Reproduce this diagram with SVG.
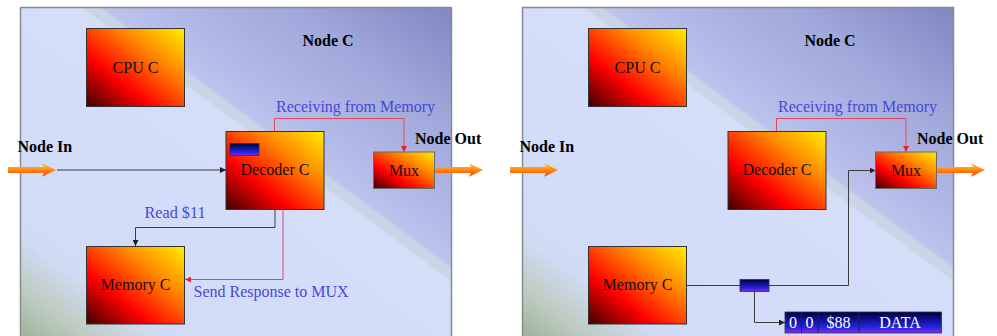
<svg xmlns="http://www.w3.org/2000/svg" width="997" height="336" viewBox="0 0 997 336">
  <defs>
    <style>
      .panel { stroke: #8a8a8a; stroke-width: 1.5; fill: url(#panelGrad); }
      .box { stroke: #333333; stroke-width: 1; fill: url(#hotGrad); }
      .mux { stroke: #6a6a6a; stroke-width: 1; fill: url(#hotGrad); }
      .chip { stroke: #303050; stroke-width: 0.8; fill: url(#blueGrad); }
      .lbl { font-family: "Liberation Serif", "Times New Roman", serif; font-size: 16px; fill: #111111; text-anchor: middle; }
      .title { font-family: "Liberation Serif", "Times New Roman", serif; font-size: 16px; font-weight: bold; fill: #000000; }
      .note { font-family: "Liberation Serif", "Times New Roman", serif; font-size: 16px; fill: #4848d8; }
      .pkt { font-family: "Liberation Serif", "Times New Roman", serif; font-size: 16px; fill: #ffffff; text-anchor: middle; }
      .wire { fill: none; stroke: #3c3c3c; stroke-width: 1; }
      .wire-red { fill: none; stroke: #e04a5e; stroke-width: 1; }
      .fat { fill: url(#arrowGrad); }
    </style>
    <!-- panel backdrop: pale blue with a light diagonal streak, darker towards the top right -->
    <linearGradient id="panelGrad" gradientUnits="userSpaceOnUse" x1="20" y1="336" x2="330" y2="-83">
      <stop offset="0" stop-color="#9fb29c"/>
      <stop offset="0.07" stop-color="#bccabf"/>
      <stop offset="0.16" stop-color="#d2dbf6"/>
      <stop offset="0.55" stop-color="#d4ddfa"/>
      <stop offset="0.574" stop-color="#d6def6"/>
      <stop offset="0.580" stop-color="#c9d5e6"/>
      <stop offset="0.596" stop-color="#c9d4e8"/>
      <stop offset="0.601" stop-color="#bcc3ec"/>
      <stop offset="0.64" stop-color="#b6bdea"/>
      <stop offset="0.82" stop-color="#a0a7da"/>
      <stop offset="1" stop-color="#8086c2"/>
    </linearGradient>
    <!-- component fill: dark red corner to yellow corner -->
    <linearGradient id="hotGrad" x1="0" y1="1" x2="1" y2="0">
      <stop offset="0" stop-color="#3c0000"/>
      <stop offset="0.33" stop-color="#ff0000"/>
      <stop offset="0.68" stop-color="#ff8a00"/>
      <stop offset="1" stop-color="#ffee00"/>
    </linearGradient>
    <linearGradient id="blueGrad" x1="0" y1="0" x2="0" y2="1">
      <stop offset="0" stop-color="#00003a"/>
      <stop offset="0.45" stop-color="#1414a8"/>
      <stop offset="0.78" stop-color="#2a2ae6"/>
      <stop offset="1" stop-color="#a020e8"/>
    </linearGradient>
    <linearGradient id="arrowGrad" x1="0" y1="0" x2="0" y2="1">
      <stop offset="0" stop-color="#ffc838"/>
      <stop offset="0.5" stop-color="#ff8a10"/>
      <stop offset="1" stop-color="#ff3400"/>
    </linearGradient>
    <marker id="tipBlack" markerUnits="userSpaceOnUse" markerWidth="7" markerHeight="6" refX="6" refY="3" orient="auto">
      <path d="M0,0 L6,3 L0,6 Z" fill="#202020"/>
    </marker>
    <marker id="tipRed" markerUnits="userSpaceOnUse" markerWidth="7" markerHeight="6" refX="6" refY="3" orient="auto">
      <path d="M0,0 L6,3 L0,6 Z" fill="#ee2030"/>
    </marker>
    <path id="fatArrow" d="M0,-3 L36,-3 L34,-6.7 L48,0 L34,6.7 L36,3 L0,3 Z"/>
  </defs>

  <!-- left view: Decoder C reading from Memory C -->
  <g id="panel-left">
    <rect class="panel" x="20.5" y="7.5" width="431" height="340"/>
    <text class="title" x="328" y="46" text-anchor="middle">Node C</text>
    <text class="title" x="17.5" y="152">Node In</text>
    <text class="title" x="415" y="144">Node Out</text>
  </g>

  <!-- right view: Memory C answering through Mux -->
  <g id="panel-right">
    <g transform="translate(502,0)">
      <rect class="panel" x="20.5" y="7.5" width="431" height="340"/>
    </g>
    <text class="title" x="830" y="46" text-anchor="middle">Node C</text>
    <text class="title" x="519.5" y="152">Node In</text>
    <text class="title" x="917" y="144">Node Out</text>
  </g>

  <g id="connectors">
    <!-- left view -->
    <path class="wire" d="M57,170 H226" marker-end="url(#tipBlack)"/>
    <path class="wire" d="M275,209 V227.5 H135.5 V246" marker-end="url(#tipBlack)"/>
    <path class="wire-red" d="M283,209 V279.5 H185" marker-end="url(#tipRed)"/>
    <path class="wire-red" d="M274.5,131 V118.5 H404 V152" marker-end="url(#tipRed)"/>
    <!-- right view -->
    <path class="wire-red" d="M776.5,131 V118.5 H906 V152" marker-end="url(#tipRed)"/>
    <path class="wire" d="M687,285.5 H740"/>
    <path class="wire" d="M769,285.5 H848.5 V170.5 H875.5" marker-end="url(#tipBlack)"/>
    <path class="wire" d="M754.5,291.5 V322.5 H785" marker-end="url(#tipBlack)"/>
  </g>

  <g id="node-in-left">
    <use href="#fatArrow" class="fat" x="8" y="170"/>
  </g>
  <g id="node-out-left">
    <use href="#fatArrow" class="fat" x="435" y="170"/>
  </g>
  <g id="node-in-right">
    <use href="#fatArrow" class="fat" x="510" y="170"/>
  </g>
  <g id="node-out-right">
    <use href="#fatArrow" class="fat" x="937" y="170"/>
  </g>

  <g id="cpu-left">
    <rect class="box" x="86.5" y="28.5" width="98" height="78"/>
    <text class="lbl" x="135.5" y="73">CPU C</text>
  </g>
  <g id="decoder-left">
    <rect class="box" x="226" y="131.5" width="98" height="78"/>
    <rect class="chip" x="230" y="143.5" width="29" height="12"/>
    <text class="lbl" x="275" y="175">Decoder C</text>
  </g>
  <g id="mux-left">
    <rect class="mux" x="373.5" y="152" width="61" height="36.5"/>
    <text class="lbl" x="404" y="175.5">Mux</text>
  </g>
  <g id="memory-left">
    <rect class="box" x="86.5" y="246.5" width="98" height="77.5"/>
    <text class="lbl" x="135.5" y="290">Memory C</text>
  </g>

  <g id="cpu-right">
    <rect class="box" x="588.5" y="28.5" width="98" height="78"/>
    <text class="lbl" x="637.5" y="73">CPU C</text>
  </g>
  <g id="decoder-right">
    <rect class="box" x="728" y="131.5" width="98" height="78"/>
    <text class="lbl" x="777" y="175">Decoder C</text>
  </g>
  <g id="mux-right">
    <rect class="mux" x="875.5" y="152" width="61" height="36.5"/>
    <text class="lbl" x="906" y="175.5">Mux</text>
  </g>
  <g id="memory-right">
    <rect class="box" x="588.5" y="246.5" width="98" height="77.5"/>
    <text class="lbl" x="637.5" y="290">Memory C</text>
  </g>

  <g id="buffer-right">
    <rect class="chip" x="740" y="279.5" width="29" height="12"/>
  </g>

  <g id="packet-right">
    <rect class="chip" x="785" y="312" width="156.5" height="21"/>
    <path d="M801.5,312 V333 M818,312 V333 M859,312 V333" stroke="#202040" stroke-width="1" fill="none"/>
    <text class="pkt" x="793" y="328">0</text>
    <text class="pkt" x="809.5" y="328">0</text>
    <text class="pkt" x="838.5" y="328">$88</text>
    <text class="pkt" x="900" y="328">DATA</text>
  </g>

  <g id="labels">
    <text class="note" x="276" y="111.5">Receiving from Memory</text>
    <text class="note" x="144.5" y="218" textLength="61" lengthAdjust="spacingAndGlyphs">Read $11</text>
    <text class="note" x="193.5" y="296.5">Send Response to MUX</text>
    <text class="note" x="778" y="111.5">Receiving from Memory</text>
  </g>
</svg>
